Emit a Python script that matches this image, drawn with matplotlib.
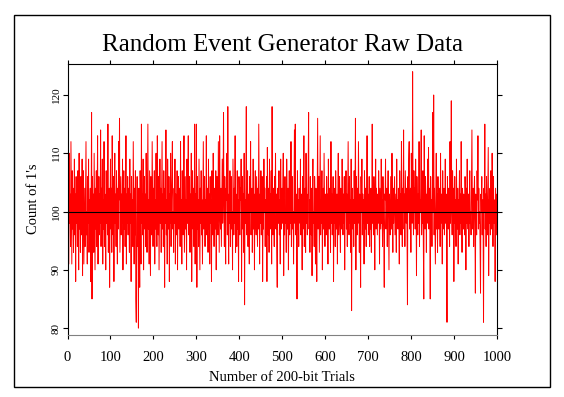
import matplotlib
matplotlib.use("Agg")
import matplotlib.pyplot as plt
import matplotlib.patches as patches
import numpy as np

plt.rcParams['font.family'] = ['Liberation Serif', 'DejaVu Serif']

# === data: count of 1's per 200-bit trial ===
counts = [
    121, 106, 91, 110, 98, 103, 94, 112, 102, 91, 107, 97, 104, 93, 100, 109, 96, 103, 88, 106,
    98, 104, 94, 107, 102, 90, 110, 97, 103, 93, 106, 100, 96, 109, 89, 102, 107, 91, 98, 104,
    94, 103, 112, 96, 100, 91, 106, 98, 109, 93, 102, 97, 104, 88, 100, 117, 85, 106, 97, 103,
    93, 110, 100, 90, 104, 97, 107, 94, 102, 113, 91, 100, 106, 96, 103, 98, 114, 94, 104, 100,
    109, 91, 102, 97, 112, 94, 103, 100, 90, 107, 98, 106, 96, 115, 93, 102, 104, 87, 100, 109,
    97, 104, 93, 113, 100, 96, 106, 88, 102, 110, 98, 103, 94, 107, 100, 91, 104, 97, 112, 102,
    116, 93, 100, 106, 96, 103, 98, 109, 90, 102, 107, 97, 104, 94, 100, 113, 91, 103, 98, 106,
    96, 104, 100, 93, 109, 98, 103, 88, 106, 97, 102, 94, 112, 100, 91, 104, 96, 107, 85, 81,
    98, 106, 94, 102, 80, 104, 97, 87, 107, 100, 91, 115, 98, 103, 96, 109, 90, 102, 106, 97,
    103, 94, 110, 100, 93, 104, 115, 97, 102, 91, 107, 98, 89, 106, 100, 96, 112, 103, 94, 104,
    98, 107, 91, 102, 97, 110, 100, 94, 113, 103, 96, 106, 90, 100, 109, 98, 104, 93, 102, 112,
    97, 103, 94, 107, 100, 87, 104, 98, 114, 96, 102, 91, 109, 100, 97, 106, 88, 103, 98, 110,
    94, 102, 106, 112, 97, 100, 93, 104, 98, 109, 91, 103, 100, 96, 107, 90, 102, 106, 97, 100,
    104, 94, 112, 98, 102, 91, 107, 100, 96, 103, 113, 93, 100, 106, 97, 102, 90, 109, 98, 103,
    113, 96, 100, 106, 93, 103, 98, 110, 88, 102, 107, 97, 104, 94, 100, 115, 91, 103, 98, 115,
    87, 106, 97, 102, 94, 109, 100, 90, 104, 98, 107, 96, 102, 91, 103, 112, 97, 100, 106, 94,
    102, 98, 113, 96, 104, 100, 93, 109, 97, 103, 91, 106, 98, 102, 88, 107, 100, 96, 110, 103,
    94, 104, 100, 97, 107, 90, 102, 106, 98, 96, 112, 103, 93, 113, 100, 97, 104, 94, 102, 109,
    98, 103, 117, 100, 94, 106, 97, 91, 104, 102, 110, 96, 118, 100, 91, 103, 98, 107, 94, 102,
    106, 97, 100, 90, 109, 102, 96, 104, 98, 113, 93, 103, 100, 94, 107, 97, 102, 88, 106, 100,
    96, 104, 102, 109, 88, 100, 106, 97, 103, 93, 110, 84, 102, 98, 104, 118, 96, 100, 107, 94,
    103, 98, 91, 106, 100, 112, 96, 102, 104, 93, 100, 109, 97, 103, 90, 102, 107, 98, 96, 106,
    100, 94, 104, 97, 115, 102, 91, 103, 98, 107, 96, 100, 106, 88, 102, 97, 109, 100, 104, 94,
    102, 98, 106, 88, 111, 100, 96, 104, 93, 109, 98, 103, 97, 107, 91, 118, 100, 96, 104, 102,
    94, 106, 100, 110, 97, 103, 93, 87, 104, 100, 98, 107, 96, 102, 91, 109, 100, 97, 104, 98,
    103, 110, 89, 102, 96, 106, 98, 100, 93, 109, 102, 97, 104, 90, 100, 107, 96, 103, 98, 112,
    94, 102, 106, 97, 100, 91, 104, 114, 98, 115, 96, 103, 100, 85, 107, 97, 102, 94, 104, 100,
    98, 109, 96, 103, 100, 90, 106, 97, 102, 113, 94, 100, 104, 93, 110, 98, 103, 96, 100, 107,
    117, 97, 102, 93, 106, 100, 96, 104, 89, 103, 109, 98, 100, 94, 106, 102, 91, 104, 98, 88,
    102, 116, 97, 100, 106, 93, 103, 113, 96, 102, 98, 107, 90, 100, 104, 97, 110, 102, 94, 103,
    100, 96, 106, 98, 103, 91, 109, 100, 97, 104, 102, 93, 112, 98, 103, 96, 100, 106, 88, 102,
    98, 104, 94, 107, 100, 97, 103, 91, 102, 110, 96, 100, 106, 98, 93, 104, 102, 97, 109, 100,
    96, 103, 98, 106, 90, 102, 100, 107, 97, 103, 94, 104, 112, 100, 96, 106, 98, 102, 93, 109,
    83, 100, 104, 97, 102, 94, 107, 98, 103, 116, 90, 106, 100, 96, 104, 98, 112, 102, 93, 103,
    98, 87, 106, 100, 109, 96, 103, 98, 102, 91, 107, 100, 97, 104, 94, 102, 113, 98, 103, 96,
    100, 106, 94, 102, 97, 104, 93, 100, 115, 98, 103, 96, 106, 100, 90, 102, 109, 97, 104, 100,
    96, 103, 98, 107, 102, 91, 104, 100, 97, 109, 98, 102, 94, 106, 100, 96, 87, 103, 102, 109,
    97, 100, 104, 94, 102, 107, 98, 90, 103, 100, 96, 106, 102, 97, 110, 100, 93, 104, 98, 102,
    106, 96, 100, 103, 93, 109, 98, 102, 97, 104, 100, 91, 107, 98, 103, 96, 112, 100, 94, 104,
    100, 114, 97, 103, 94, 107, 102, 98, 104, 96, 84, 106, 100, 109, 112, 97, 102, 104, 93, 110,
    103, 98, 124, 102, 96, 107, 100, 104, 97, 109, 102, 89, 106, 100, 96, 103, 98, 112, 94, 102,
    100, 104, 114, 96, 102, 98, 107, 94, 85, 113, 100, 97, 106, 102, 93, 103, 98, 109, 100, 111,
    97, 104, 100, 85, 106, 98, 102, 94, 103, 117, 100, 120, 96, 104, 98, 91, 102, 110, 97, 103,
    93, 106, 100, 97, 104, 102, 94, 110, 98, 103, 100, 91, 107, 97, 102, 104, 96, 100, 109, 98,
    103, 96, 81, 106, 100, 97, 104, 102, 94, 112, 98, 103, 119, 100, 96, 107, 102, 104, 88, 100,
    106, 98, 102, 94, 109, 100, 97, 104, 91, 102, 100, 107, 96, 103, 98, 112, 100, 93, 104, 102,
    97, 103, 100, 96, 106, 102, 90, 104, 98, 109, 100, 97, 103, 94, 102, 107, 98, 100, 96, 104,
    114, 100, 97, 104, 94, 102, 106, 98, 86, 103, 100, 96, 107, 102, 113, 97, 104, 98, 100, 94,
    86, 103, 100, 106, 96, 102, 98, 81, 104, 100, 115, 97, 103, 94, 106, 100, 96, 104, 111, 89,
    102, 98, 104, 96, 107, 100, 97, 110, 103, 94, 106, 100, 98, 102, 88, 104, 100, 96, 103, 98,
]
trials = np.arange(1, len(counts) + 1)
expected = 100
x_ticks = list(range(0, 1001, 100))
y_ticks = [80, 90, 100, 110, 120]

# === figure ===
fig = plt.figure(figsize=(5.64, 3.97), dpi=100)
ax = fig.add_axes([0.1197, 0.1574, 0.762, 0.6826])

ax.plot(trials, counts, color='#ff0000', lw=0.7)
ax.axhline(expected, color='black', lw=0.8, zorder=3)

ax.set_xlim(0, 1000)
ax.set_ylim(78.9, 125.4)
ax.set_xticks(x_ticks)
ax.set_yticks(y_ticks)
ax.set_xticklabels([str(t) for t in x_ticks], fontsize=10.5)
ax.set_yticklabels([str(t) for t in y_ticks], fontsize=8, rotation=90, va='center')

ax.tick_params(axis='x', direction='out', length=3, width=0.8, top=True, pad=9)
ax.tick_params(axis='y', direction='out', length=3.5, width=0.8, right=True, pad=1.5)
for side in ['left', 'top', 'right']:
    ax.spines[side].set_linewidth(0.8)
ax.spines['bottom'].set_linewidth(0.8)
ax.spines['bottom'].set_color('#808080')

ax.set_xlabel("Number of 200-bit Trials", fontsize=10.5)
ax.set_ylabel("Count of 1's", fontsize=10.5)
ax.xaxis.set_label_coords(0.5, -0.135)
ax.yaxis.set_label_coords(-0.063, 0.5)

fig.text(0.5, 1 - 45 / 397, "Random Event Generator Raw Data", fontsize=18,
         ha='center', va='center')

# outer frame
fig.patches.append(patches.Rectangle((14 / 564, 1 - 387 / 397), 536 / 564, 372 / 397,
                                     transform=fig.transFigure, fill=False,
                                     edgecolor='black', lw=1))

fig.savefig("out.png", dpi=100)
